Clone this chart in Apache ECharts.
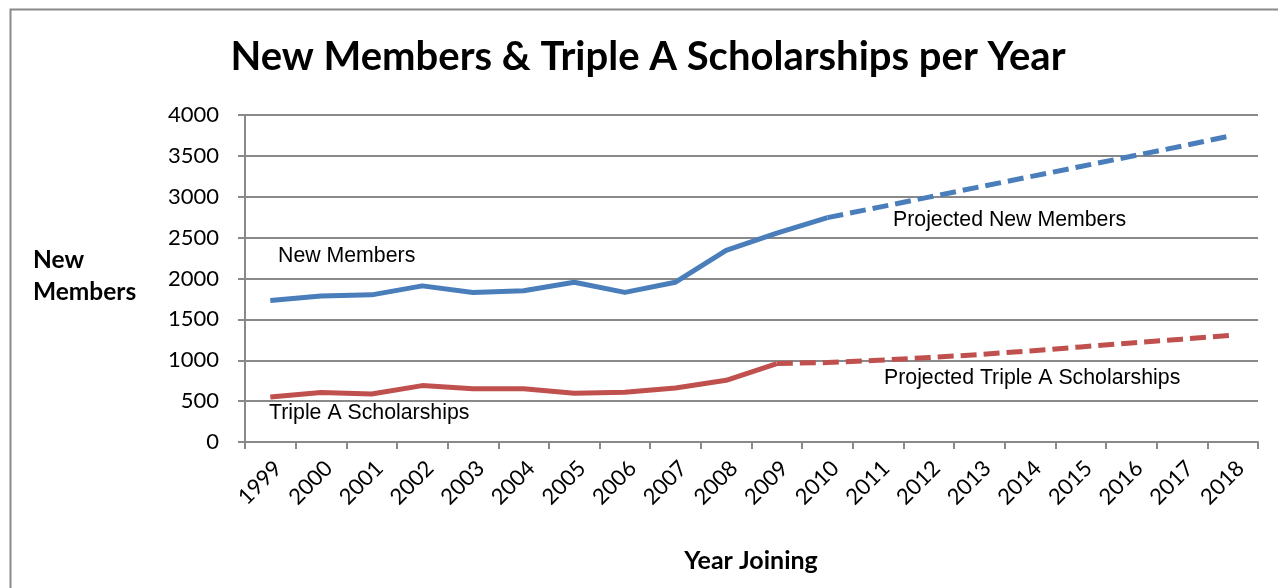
<!DOCTYPE html>
<html>
<head>
<meta charset="utf-8">
<title>New Members & Triple A Scholarships per Year</title>
<script src="https://cdn.jsdelivr.net/npm/echarts/dist/echarts.min.js"></script>
<style>
  html, body { margin: 0; padding: 0; background: #fff; }
  #chart { width: 1278px; height: 588px; }
</style>
</head>
<body>
<div id="chart"></div>
<script>
var years = ['1999', '2000', '2001', '2002', '2003', '2004', '2005', '2006', '2007', '2008',
             '2009', '2010', '2011', '2012', '2013', '2014', '2015', '2016', '2017', '2018'];

// actual 1999-2010, projected 2010-2018
var newMembersActual = [1730, 1785, 1800, 1910, 1830, 1850, 1955, 1830, 1955, 2345, 2555, 2745];
var newMembersProjected = [2745, 2870, 2995, 3120, 3245, 3370, 3495, 3620, 3750];

// actual 1999-2009, projected 2009-2018
var scholarshipsActual = [550, 605, 588, 690, 650, 650, 596, 608, 660, 755, 960];
var scholarshipsProjected = [960, 972, 1000, 1033, 1070, 1114, 1163, 1212, 1258, 1306];

var yTicks = [0, 500, 1000, 1500, 2000, 2500, 3000, 3500, 4000];

var BLUE = '#4a7ebb';
var RED = '#c0504d';
var GRID = '#898989';

// pad an array with nulls so it lines up with years
function place(values, start) {
  var out = [];
  for (var i = 0; i < years.length; i++) {
    var k = i - start;
    out.push(k >= 0 && k < values.length ? values[k] : null);
  }
  return out;
}

function lineSeries(name, data, color, dashed) {
  return {
    name: name,
    type: 'line',
    data: data,
    symbol: 'none',
    smooth: false,
    connectNulls: false,
    silent: true,
    lineStyle: {
      color: color,
      width: 5,
      type: dashed ? [16, 7] : 'solid',
      join: 'round'
    }
  };
}

function label(text, x, y, opts) {
  opts = opts || {};
  return {
    type: 'text',
    x: x,
    y: y,
    silent: true,
    style: {
      text: text,
      fill: '#000',
      font: opts.font || '21.3px "Liberation Sans", Arial, sans-serif',
      textAlign: opts.align || 'left',
      textVerticalAlign: 'middle',
      lineHeight: opts.lineHeight
    }
  };
}

var chart = echarts.init(document.getElementById('chart'), null, { renderer: 'canvas' });

chart.setOption({
  backgroundColor: '#fff',
  animation: false,
  grid: { left: 245, right: 20, top: 115, bottom: 146, containLabel: false },
  xAxis: {
    type: 'category',
    data: years,
    boundaryGap: true,
    axisLine: { lineStyle: { color: GRID, width: 2 } },
    axisTick: { show: true, inside: false, length: 7, lineStyle: { color: GRID, width: 2 } },
    axisLabel: {
      rotate: 45,
      interval: 0,
      margin: 15,
      verticalAlign: 'top',
      color: '#000',
      fontFamily: 'Lato, "Open Sans", sans-serif',
      fontSize: 22
    },
    splitLine: { show: false }
  },
  yAxis: {
    type: 'value',
    min: yTicks[0],
    max: yTicks[yTicks.length - 1],
    interval: 500,
    axisLine: { show: true, lineStyle: { color: GRID, width: 2 } },
    axisTick: { show: true, inside: false, length: 7, lineStyle: { color: GRID, width: 2 } },
    axisLabel: {
      margin: 26,
      color: '#000',
      fontFamily: 'Lato, "Open Sans", sans-serif',
      fontSize: 22,
      formatter: function (v) { return String(v); }
    },
    splitLine: { show: true, lineStyle: { color: GRID, width: 2 } }
  },
  series: [
    lineSeries('New Members', place(newMembersActual, 0), BLUE, false),
    lineSeries('Projected New Members', place(newMembersProjected, 11), BLUE, true),
    lineSeries('Triple A Scholarships', place(scholarshipsActual, 0), RED, false),
    lineSeries('Projected Triple A Scholarships', place(scholarshipsProjected, 10), RED, true)
  ],
  graphic: [
    {
      type: 'rect',
      silent: true,
      shape: { x: 10.5, y: 9.5, width: 1300, height: 620 },
      style: { fill: null, stroke: GRID, lineWidth: 2 }
    },
    label('New Members & Triple A Scholarships per Year', 648, 57,
      { font: 'bold 40px Lato, "Open Sans", sans-serif', align: 'center' }),
    label('New\nMembers', 33, 276,
      { font: 'bold 24.5px Lato, "Open Sans", sans-serif', lineHeight: 32 }),
    label('Year Joining', 751, 561,
      { font: 'bold 25px Lato, "Open Sans", sans-serif', align: 'center' }),
    label('New Members', 278, 256),
    label('Triple A Scholarships', 269, 413),
    label('Projected New Members', 893, 220),
    label('Projected Triple A Scholarships', 884, 378)
  ]
});
</script>
</body>
</html>
